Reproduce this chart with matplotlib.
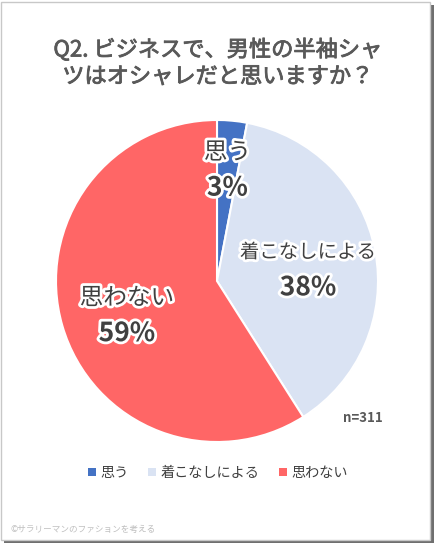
import numpy as np
import matplotlib.pyplot as plt
import matplotlib.patheffects as pe
from matplotlib.patches import Rectangle

plt.rcParams['font.family'] = ['Noto Sans CJK JP', 'DejaVu Sans']

labels = ['思う', '着こなしによる', '思わない']
values = [3, 38, 59]
colors = ['#4472C4', '#DAE3F3', '#FF6666']
title = 'Q2. ビジネスで、男性の半袖シャ\nツはオシャレだと思いますか？'
n_text = 'n=311'
credit = '©サラリーマンのファションを考える'

W, H = 436, 544
fig = plt.figure(figsize=(W / 100, H / 100), dpi=100)

# frame with shadow
fig.patches.append(Rectangle((4 / W, 1 / H), 430 / W, 538 / H, transform=fig.transFigure,
                             facecolor='#6F6F6F', edgecolor='none', zorder=0))
fig.patches.append(Rectangle((1 / W, 4 / H), 429 / W, 538 / H, transform=fig.transFigure,
                             facecolor='white', edgecolor='#C8C8C8', linewidth=1, zorder=0.5))

cx, cy, r = 217, 281, 161
ax = fig.add_axes([(cx - r) / W, (H - cy - r) / H, 2 * r / W, 2 * r / H])
ax.set_zorder(2)
ax.patch.set_visible(False)
wedges, _ = ax.pie(values, colors=colors, startangle=90, counterclock=False,
                   wedgeprops=dict(edgecolor='white', linewidth=1.5))
ax.set_xlim(-1, 1)
ax.set_ylim(-1, 1)
ax.set_aspect('equal')

# label placement: (radius, angle offset in degrees, name font size)
place = [(0.69, 0, 17), (0.57, -4, 14), (0.60, 5, 17)]
glow = [pe.withStroke(linewidth=4, foreground='white')]
for w, lab, v, (rr, da, fs) in zip(wedges, labels, values, place):
    ang = np.deg2rad((w.theta1 + w.theta2) / 2 + da)
    x, y = rr * np.cos(ang), rr * np.sin(ang)
    ax.text(x, y + 0.11, lab, ha='center', va='center', fontsize=fs,
            color='#404040', path_effects=glow)
    ax.text(x, y - 0.11, f'{v}%', ha='center', va='center', fontsize=19,
            fontweight='bold', color='#404040', path_effects=glow)

fig.text(0.5, (H - 63) / H, title, ha='center', va='center', fontsize=16,
         color='#595959', linespacing=1.2, zorder=3,
         path_effects=[pe.withStroke(linewidth=0.6, foreground='#595959')])
fig.text(363 / W, (H - 418) / H, n_text, ha='center', va='center', fontsize=9.5,
         fontweight='bold', color='#595959', zorder=3)

handles = [Rectangle((0, 0), 1, 1, facecolor=c) for c in colors]
leg = fig.legend(handles, labels, loc='center', bbox_to_anchor=(0.5, (H - 473) / H),
                 ncol=3, frameon=False, fontsize=10.2, handlelength=0.55, handleheight=0.55,
                 handletextpad=0.3, columnspacing=1.4, labelcolor='#404040')
leg.set_zorder(3)

fig.text(10 / W, (H - 529) / H, credit, ha='left', va='center', fontsize=6.2,
         color='#BFBFBF', zorder=3)

fig.savefig('out.png', dpi=100)
